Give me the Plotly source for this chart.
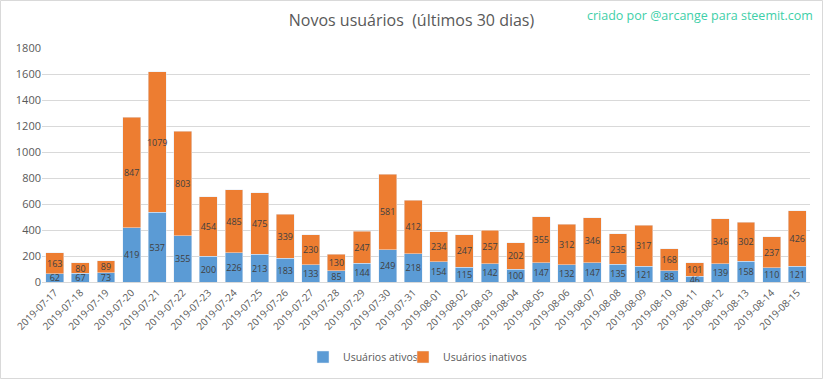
import plotly.graph_objects as go

dates = ["2019-07-17","2019-07-18","2019-07-19","2019-07-20","2019-07-21","2019-07-22","2019-07-23",
         "2019-07-24","2019-07-25","2019-07-26","2019-07-27","2019-07-28","2019-07-29","2019-07-30",
         "2019-07-31","2019-08-01","2019-08-02","2019-08-03","2019-08-04","2019-08-05","2019-08-06",
         "2019-08-07","2019-08-08","2019-08-09","2019-08-10","2019-08-11","2019-08-12","2019-08-13",
         "2019-08-14","2019-08-15"]
ativos = [62,67,73,419,537,355,200,226,213,183,133,85,144,249,218,154,115,142,100,147,132,147,135,121,88,46,139,158,110,121]
inativos = [163,80,89,847,1079,803,454,485,475,339,230,130,247,581,412,234,247,257,202,355,312,346,235,317,168,101,346,302,237,426]
y_ticks = [0,200,400,600,800,1000,1200,1400,1600,1800]

W, H = 823, 379
L, R, T, B = 42, 13, 48, 97
pw, ph = W - L - R, H - T - B

fig = go.Figure()
for name, vals, col, lg in [("Usuários ativos", ativos, "#5B9BD5", "legend"),
                            ("Usuários inativos", inativos, "#ED7D31", "legend2")]:
    fig.add_trace(go.Bar(x=dates, y=vals, name=name, marker_color=col, legend=lg,
                         text=[str(v) for v in vals], textposition="inside", insidetextanchor="middle",
                         textangle=0, constraintext="none",
                         textfont=dict(size=9, color="#404040", family="Open Sans")))

leg_y = -(357 - T - ph) / ph
leg_common = dict(orientation="h", xanchor="left", y=leg_y, yanchor="middle",
                  font=dict(size=10.5, color="#595959"), itemwidth=30, bgcolor="rgba(0,0,0,0)")

fig.update_layout(
    barmode="stack", bargap=0.3,
    width=W, height=H,
    margin=dict(l=L, r=R, t=T, b=B, autoexpand=False),
    paper_bgcolor="white", plot_bgcolor="white",
    font=dict(family="Open Sans", color="#595959"),
    title=dict(text="Novos usuários  (últimos 30 dias)", x=0.5, xanchor="center",
               y=1 - 20 / H, yanchor="middle",
               font=dict(size=16, color="#595959", family="Open Sans")),
    xaxis=dict(type="category", tickangle=-45, tickfont=dict(size=10, color="#595959"),
               showgrid=False, showline=True, linecolor="#d9d9d9", ticks="", automargin=False),
    yaxis=dict(range=[0, 1800], tickvals=y_ticks, tickfont=dict(size=11, color="#595959"),
               showgrid=True, gridcolor="#d9d9d9", zeroline=False, ticks="", automargin=False),
    legend=dict(x=(303 - L) / pw, **leg_common),
    legend2=dict(x=(403 - L) / pw, **leg_common),
    showlegend=True,
)

fig.add_annotation(text="criado por @arcange para steemit.com", xref="paper", yref="paper",
                   x=1 + (R - 8) / pw, xanchor="right", y=1 + (T - 15) / ph, yanchor="middle",
                   showarrow=False, font=dict(size=12.5, color="#3ECFA8", family="Open Sans"))

fig.add_shape(type="rect", xref="paper", yref="paper",
              x0=-(L - 0.5) / pw, x1=1 + (R - 0.5) / pw, y0=-(B - 0.5) / ph, y1=1 + (T - 0.5) / ph,
              line=dict(color="#d9d9d9", width=1), fillcolor="rgba(0,0,0,0)", layer="above")

fig.write_html("out.html", config={"displayModeBar": False},
               post_script="document.body.style.margin='0';document.body.style.padding='0';")
